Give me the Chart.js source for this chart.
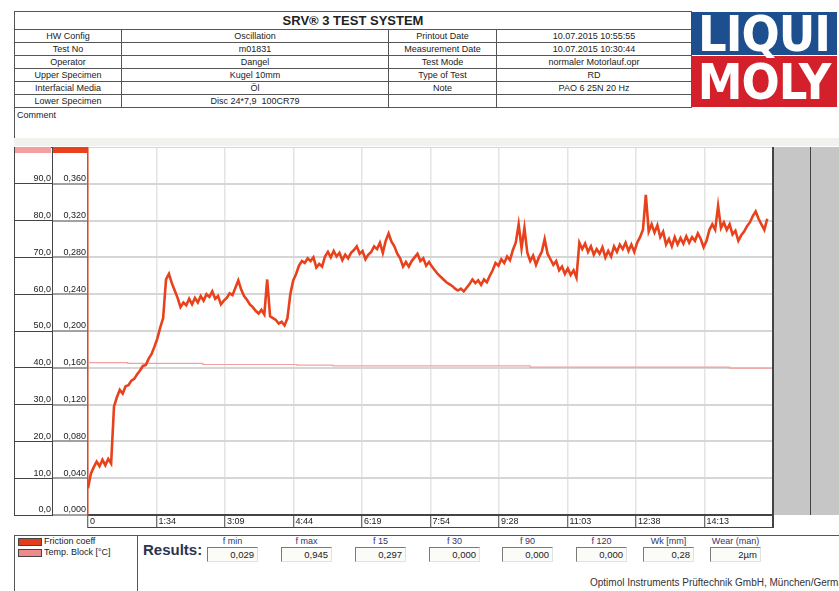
<!DOCTYPE html>
<html>
<head>
<meta charset="utf-8">
<script src="https://cdn.jsdelivr.net/npm/chart.js@4.4.0/dist/chart.umd.min.js"></script>
<style>
  body { margin: 0; width: 839px; height: 591px; overflow: hidden; background: #fff; position: relative;
         font-family: "Liberation Sans", Arial, sans-serif; color: #222; }
  .abs { position: absolute; }
  #hdr { position: absolute; left: 14px; top: 11px; width: 677px; border-collapse: collapse; table-layout: fixed; font-size: 9px; }
  #hdr th { height: 17px; padding: 0; font-size: 13px; font-weight: bold; border: 1px solid #555; line-height: 16px; }
  #hdr td { height: 12px; padding: 0; border: 1px solid #555; text-align: center; line-height: 11px; white-space: nowrap; overflow: hidden; }
  #logo { left: 691px; top: 12px; width: 146px; height: 95px; }
  #logo .blue { position: absolute; left: 0; top: 0; width: 146px; height: 43px; background: #1d4f8e; }
  #logo .red { position: absolute; left: 0; top: 44px; width: 146px; height: 51px; background: #d3202b; }
  #logo span { position: absolute; left: 0; width: 146px; text-align: center; color: #fff; font-weight: bold;
               font-family: "DejaVu Sans Condensed", "Liberation Sans Narrow", sans-serif; font-size: 50px; letter-spacing: -1px; }
  #comment { left: 14px; top: 107px; width: 825px; height: 31px; border-left: 1px solid #555; font-size: 9px; padding: 3px 0 0 2px; box-sizing: border-box; }
  #band { left: 14px; top: 138px; width: 825px; height: 8px; background: #f1f1ed; }
  #plot { left: 14px; top: 147px; width: 825px; height: 381px; }
  #sep { left: 14px; top: 535px; width: 825px; height: 0; border-top: 1px solid #555; }
  #legend { left: 14px; top: 535px; width: 122px; height: 60px; border-left: 1px solid #555; border-right: 1px solid #555; font-size: 9px; }
  .sw { position: absolute; left: 3px; width: 22px; height: 6px; border: 1px solid #444; }
  .lt { position: absolute; left: 29px; white-space: nowrap; }
  #results { left: 143px; top: 541px; font-size: 15px; font-weight: bold; color: #2b3450; }
  .rl { position: absolute; top: 536px; width: 51px; text-align: center; font-size: 9px; color: #33336e; }
  .rb { position: absolute; top: 547px; width: 51px; height: 15px; box-sizing: border-box; font-size: 9.5px; text-align: right; padding-right: 3px; line-height: 14px;
        border-top: 1px solid #7a7a7a; border-left: 1px solid #7a7a7a; border-right: 1px solid #e2e2e2; border-bottom: 1px solid #e2e2e2; background: #fbfbf8; }
  #foot { left: 590px; top: 577px; font-size: 10px; color: #333; white-space: nowrap; }
</style>
</head>
<body>

<table id="hdr">
  <colgroup><col style="width:107px"><col style="width:267px"><col style="width:108px"><col style="width:195px"></colgroup>
  <tr><th colspan="4">SRV® 3 TEST SYSTEM</th></tr>
  <tr><td>HW Config</td><td>Oscillation</td><td>Printout Date</td><td>10.07.2015 10:55:55</td></tr>
  <tr><td>Test No</td><td>m01831</td><td>Measurement Date</td><td>10.07.2015 10:30:44</td></tr>
  <tr><td>Operator</td><td>Dangel</td><td>Test Mode</td><td>normaler Motorlauf.opr</td></tr>
  <tr><td>Upper Specimen</td><td>Kugel 10mm</td><td>Type of Test</td><td>RD</td></tr>
  <tr><td>Interfacial Media</td><td>Öl</td><td>Note</td><td>PAO 6 25N 20 Hz</td></tr>
  <tr><td>Lower Specimen</td><td>Disc 24*7,9&nbsp; 100CR79</td><td></td><td></td></tr>
</table>

<div id="logo" class="abs">
  <div class="blue"></div>
  <div class="red"></div>
  <span style="top:-7px">LIQUI</span>
  <span style="top:41px">MOLY</span>
</div>

<div id="comment" class="abs">Comment</div>
<div id="band" class="abs"></div>

<div id="plot" class="abs"><canvas id="chart"></canvas></div>

<div id="sep" class="abs"></div>
<div id="legend" class="abs">
  <div class="sw" style="top:3px;background:#e33d1c"></div><div class="lt" style="top:1px">Friction coeff</div>
  <div class="sw" style="top:14px;background:#f08a8a"></div><div class="lt" style="top:12px">Temp. Block [°C]</div>
</div>

<div id="results" class="abs">Results:</div>
<div id="resultBoxes"></div>
<div id="foot" class="abs">Optimol Instruments Prüftechnik GmbH, München/Germany</div>

<script>
// x axis: test time in seconds, ticks every tenth of the run
const timeTickSec = [0, 94.8, 189.6, 284.4, 379.2, 474, 568.8, 663.6, 758.4, 853.2, 948];
const timeLabels = ['0', '1:34', '3:09', '4:44', '6:19', '7:54', '9:28', '11:03', '12:38', '14:13', ''];

const frictionTickValues = [0, 0.04, 0.08, 0.12, 0.16, 0.2, 0.24, 0.28, 0.32, 0.36, 0.4];
const frictionTicks = ['0,000', '0,040', '0,080', '0,120', '0,160', '0,200', '0,240', '0,280', '0,320', '0,360', ''];
const tempTickValues = [0, 10, 20, 30, 40, 50, 60, 70, 80, 90, 100];
const tempTicks = ['0,0', '10,0', '20,0', '30,0', '40,0', '50,0', '60,0', '70,0', '80,0', '90,0', ''];

// friction coefficient, one reading every 4 s (0 .. 940 s)
const sampleStepSec = 4;
const frictionCoeff = [
  .029, .045, .052, .058, .053, .060, .054, .061, .056, .118,   // 0
  .128, .136, .132, .140, .141, .146, .148, .153, .157, .162,   // 40
  .163, .170, .175, .183, .192, .204, .214, .256, .262, .252,   // 80
  .244, .236, .226, .231, .228, .235, .229, .236, .231, .238,   // 120
  .233, .240, .237, .243, .235, .238, .229, .233, .236, .241,   // 160
  .239, .247, .255, .245, .238, .234, .229, .226, .222, .219,   // 200
  .223, .218, .256, .216, .214, .212, .208, .210, .206, .214,   // 240
  .240, .255, .262, .271, .276, .274, .279, .276, .280, .269,   // 280
  .273, .270, .281, .286, .280, .287, .281, .285, .277, .283,   // 320
  .279, .285, .288, .292, .284, .287, .278, .283, .286, .292,   // 360
  .289, .296, .285, .298, .306, .297, .292, .284, .279, .270,   // 400
  .275, .270, .276, .280, .284, .276, .279, .271, .275, .270,   // 440
  .266, .262, .259, .256, .253, .251, .249, .246, .244, .246,   // 480
  .243, .247, .251, .256, .252, .255, .250, .256, .253, .260,   // 520
  .266, .274, .271, .278, .274, .281, .277, .288, .296, .316,   // 560
  .290, .312, .285, .276, .282, .272, .280, .286, .300, .284,   // 600
  .278, .272, .276, .266, .270, .262, .268, .261, .266, .258,   // 640
  .296, .289, .295, .286, .292, .283, .289, .284, .291, .280,   // 680
  .287, .281, .292, .286, .294, .289, .296, .287, .294, .286,   // 720
  .296, .302, .310, .348, .308, .316, .307, .315, .302, .308,   // 760
  .294, .300, .292, .302, .294, .301, .295, .303, .296, .302,   // 800
  .298, .306, .300, .291, .298, .310, .316, .310, .336, .312,   // 840
  .318, .310, .316, .305, .309, .298, .304, .308, .314, .318,   // 880
  .325, .330, .322, .316, .310, .322                            // 920
];

// block temperature, value changes at these times
const tempTimeSec = [0, 55, 159, 289, 339, 612, 888, 946];
const tempBlock = [41.4, 41.2, 40.9, 40.7, 40.5, 40.2, 39.9, 39.9];

const resultLabels = ['f min', 'f max', 'f 15', 'f 30', 'f 90', 'f 120', 'Wk [mm]', 'Wear (man)'];
const resultValues = ['0,029', '0,945', '0,297', '0,000', '0,000', '0,000', '0,28', '2µm'];
const resultLeft = [207, 281, 355, 429, 502, 576, 643, 710];

const frictionColor = '#e8411c';
const tempColor = '#f3a0a0';

let html = '';
resultLabels.forEach((l, i) => {
  html += `<div class="rl" style="left:${resultLeft[i]}px">${l}</div>`;
  html += `<div class="rb" style="left:${resultLeft[i]}px">${resultValues[i]}</div>`;
});
document.getElementById('resultBoxes').innerHTML = html;

const sheetFrame = {
  id: 'sheetFrame',
  beforeDraw(chart) {
    const { ctx, chartArea: a } = chart;
    ctx.save();
    ctx.fillStyle = '#c6c6c6';
    ctx.fillRect(a.right, a.top, chart.width - a.right, a.bottom - a.top);
    ctx.restore();
  },
  afterDraw(chart) {
    const { ctx, chartArea: a, scales } = chart;
    const yT = scales.yT, y = scales.y;
    ctx.save();
    ctx.fillStyle = tempColor;
    ctx.fillRect(yT.left + 1, a.top, yT.width - 2, 6);
    ctx.fillStyle = frictionColor;
    ctx.fillRect(y.left + 1, a.top, y.width - 2, 6);
    ctx.strokeStyle = '#444';
    ctx.lineWidth = 1;
    ctx.beginPath();
    ctx.moveTo(yT.left + 0.5, a.top);
    ctx.lineTo(yT.left + 0.5, a.bottom);
    ctx.moveTo(a.left, chart.height - 0.5);
    ctx.lineTo(a.right, chart.height - 0.5);
    ctx.moveTo(a.right + 37.5, a.top);
    ctx.lineTo(a.right + 37.5, a.bottom);
    ctx.stroke();
    ctx.lineWidth = 2;
    ctx.beginPath();
    ctx.moveTo(a.right, a.top);
    ctx.lineTo(a.right, chart.height);
    ctx.stroke();
    ctx.restore();
  }
};

const tickFont = { family: '"Liberation Sans", Arial, sans-serif', size: 9 };
const noPad = s => { s.paddingTop = 0; s.paddingBottom = 0; s.paddingLeft = 0; s.paddingRight = 0; };

new Chart(document.getElementById('chart'), {
  type: 'line',
  data: {
    datasets: [{
      label: 'Friction coeff',
      data: frictionCoeff.map((v, i) => ({ x: i * sampleStepSec, y: v })),
      yAxisID: 'y',
      borderColor: frictionColor,
      borderWidth: 2.6,
      borderJoinStyle: 'miter',
      pointRadius: 0,
      tension: 0,
    }, {
      label: 'Temp. Block [°C]',
      data: tempTimeSec.map((t, i) => ({ x: t, y: tempBlock[i] })),
      yAxisID: 'yT',
      borderColor: tempColor,
      borderWidth: 1.2,
      pointRadius: 0,
      stepped: true,
    }],
  },
  options: {
    responsive: true,
    maintainAspectRatio: false,
    animation: false,
    layout: { padding: { top: 0, right: 66, bottom: 0, left: 0 } },
    plugins: { legend: { display: false }, tooltip: { enabled: false } },
    scales: {
      x: {
        type: 'linear',
        min: 0,
        max: 948,
        afterBuildTicks: s => { s.ticks = timeTickSec.map(v => ({ value: v })); },
        afterFit: s => { s.height = 13; noPad(s); },
        ticks: {
          autoSkip: false, maxRotation: 0, align: 'start', padding: -12, labelOffset: 2,
          font: tickFont, color: '#222',
          callback: (v, i) => timeLabels[i],
        },
        grid: { color: '#e4e4e4', lineWidth: 1.5, tickColor: '#444', tickWidth: 1, tickLength: 13 },
        border: { color: '#444', width: 2 },
      },
      y: {
        position: 'left',
        weight: 1,
        min: 0,
        max: 0.4,
        afterBuildTicks: s => { s.ticks = frictionTickValues.map(v => ({ value: v })); },
        afterFit: s => { s.width = 36; noPad(s); },
        ticks: {
          autoSkip: false, padding: -34, labelOffset: -5,
          font: tickFont, color: '#222',
          callback: (v, i) => frictionTicks[i],
        },
        grid: { color: '#d6d6d6', lineWidth: 2, tickColor: '#444', tickWidth: 1, tickLength: 36 },
        border: { color: frictionColor, width: 1.5 },
      },
      yT: {
        position: 'left',
        weight: 2,
        min: 0,
        max: 100,
        afterBuildTicks: s => { s.ticks = tempTickValues.map(v => ({ value: v })); },
        afterFit: s => { s.width = 38; noPad(s); },
        ticks: {
          autoSkip: false, padding: -37, labelOffset: -5,
          font: tickFont, color: '#222',
          callback: (v, i) => tempTicks[i],
        },
        grid: { drawOnChartArea: false, tickColor: '#444', tickWidth: 1, tickLength: 38 },
        border: { color: '#444', width: 1 },
      },
    },
  },
  plugins: [sheetFrame],
});
</script>
</body>
</html>
